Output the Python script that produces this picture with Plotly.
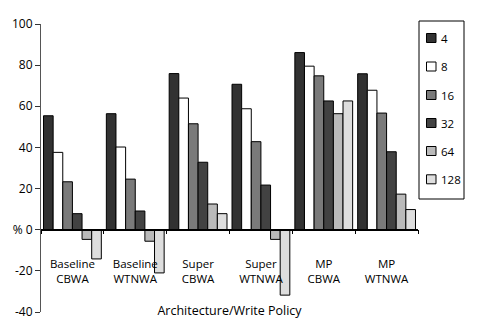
import plotly.graph_objects as go

# Architecture / write-policy combinations (x categories)
categories = [
    "Baseline<br>CBWA", "Baseline<br>WTNWA",
    "Super<br>CBWA", "Super<br>WTNWA",
    "MP<br>CBWA", "MP<br>WTNWA",
]

# Series: one per size, values in %
sizes = ["4", "8", "16", "32", "64", "128"]
values_4 = [55.4, 56.4, 75.9, 70.7, 86.1, 75.8]
values_8 = [37.6, 40.2, 64.0, 58.8, 79.5, 67.8]
values_16 = [23.3, 24.6, 51.5, 42.8, 74.8, 56.7]
values_32 = [7.8, 9.1, 32.8, 21.7, 62.6, 37.9]
values_64 = [-4.7, -5.6, 12.5, -4.7, 56.4, 17.3]
values_128 = [-14.2, -21.0, 7.8, -31.8, 62.6, 9.8]
series = [values_4, values_8, values_16, values_32, values_64, values_128]

fills = ["#323232", "#ffffff", "#7a7a7a", "#424242", "#bababa", "#dedede"]

y_ticks = [-40, -20, 0, 20, 40, 60, 80, 100]
y_ticktext = ["-40", "-20", "% 0", "20", "40", "60", "80", "100"]

FONT = "Open Sans"

fig = go.Figure()
for name, vals, col in zip(sizes, series, fills):
    fig.add_trace(go.Bar(
        x=categories, y=vals, name=name,
        marker=dict(color=col, line=dict(color="black", width=1)),
        showlegend=False,
    ))

# Plot-area geometry (pixels) used for the hand-drawn legend box
W, H = 480, 328
ML, MR, MT, MB = 41, 62, 24, 16
PW, PH = W - ML - MR, H - MT - MB


def px_x(px):
    return (px - ML) / PW


def px_y(py):
    return (H - MB - py) / PH


shapes = [dict(type="rect", xref="paper", yref="paper",
               x0=px_x(419), x1=px_x(464), y0=px_y(199), y1=px_y(21),
               line=dict(color="black", width=1), fillcolor="white", layer="below")]
annotations = []
row_y = [38, 66.5, 95, 123, 151, 179.3]
for name, col, cy in zip(sizes, fills, row_y):
    shapes.append(dict(type="rect", xref="paper", yref="paper",
                       x0=px_x(426.5), x1=px_x(436), y0=px_y(cy + 4.5), y1=px_y(cy - 4.5),
                       line=dict(color="black", width=1), fillcolor=col))
    annotations.append(dict(xref="paper", yref="paper", x=px_x(438.5), y=px_y(cy),
                            xanchor="left", yanchor="middle", text=name, showarrow=False,
                            font=dict(family=FONT, size=11.5, color="black")))

zero_pos = (0 - y_ticks[0]) / (y_ticks[-1] - y_ticks[0])

fig.update_layout(
    width=W, height=H,
    margin=dict(l=ML, r=MR, t=MT, b=MB),
    paper_bgcolor="white", plot_bgcolor="white",
    barmode="group", bargap=0.08, bargroupgap=0,
    font=dict(family=FONT, size=12, color="black"),
    shapes=shapes, annotations=annotations,
    xaxis=dict(
        type="category", categoryarray=categories, range=[-0.5, 5.5],
        anchor="free", position=zero_pos,
        showline=True, linecolor="black", linewidth=1.5,
        ticks="outside", ticklen=4, tickcolor="black", tickson="boundaries",
        ticklabelstandoff=24, tickfont=dict(family=FONT, size=11.5),
        showgrid=False, zeroline=False, automargin=False,
        title=dict(text="Architecture/Write Policy", standoff=20,
                   font=dict(family=FONT, size=12.5)),
    ),
    xaxis2=dict(
        type="linear", overlaying="x", range=[-0.5, 5.5],
        anchor="free", position=zero_pos,
        tickvals=[0.5, 1.5, 2.5, 3.5, 4.5, 5.5],
        ticks="inside", ticklen=3, tickcolor="black",
        showticklabels=False, showline=False, showgrid=False, zeroline=False,
    ),
    yaxis=dict(
        range=[-40, 100], tickvals=y_ticks, ticktext=y_ticktext,
        showline=True, linecolor="#555555", linewidth=1,
        ticks="outside", ticklen=5, tickcolor="#333333",
        tickfont=dict(family=FONT, size=12),
        showgrid=False, zeroline=False, automargin=False,
    ),
)

fig.write_html("out.html")
